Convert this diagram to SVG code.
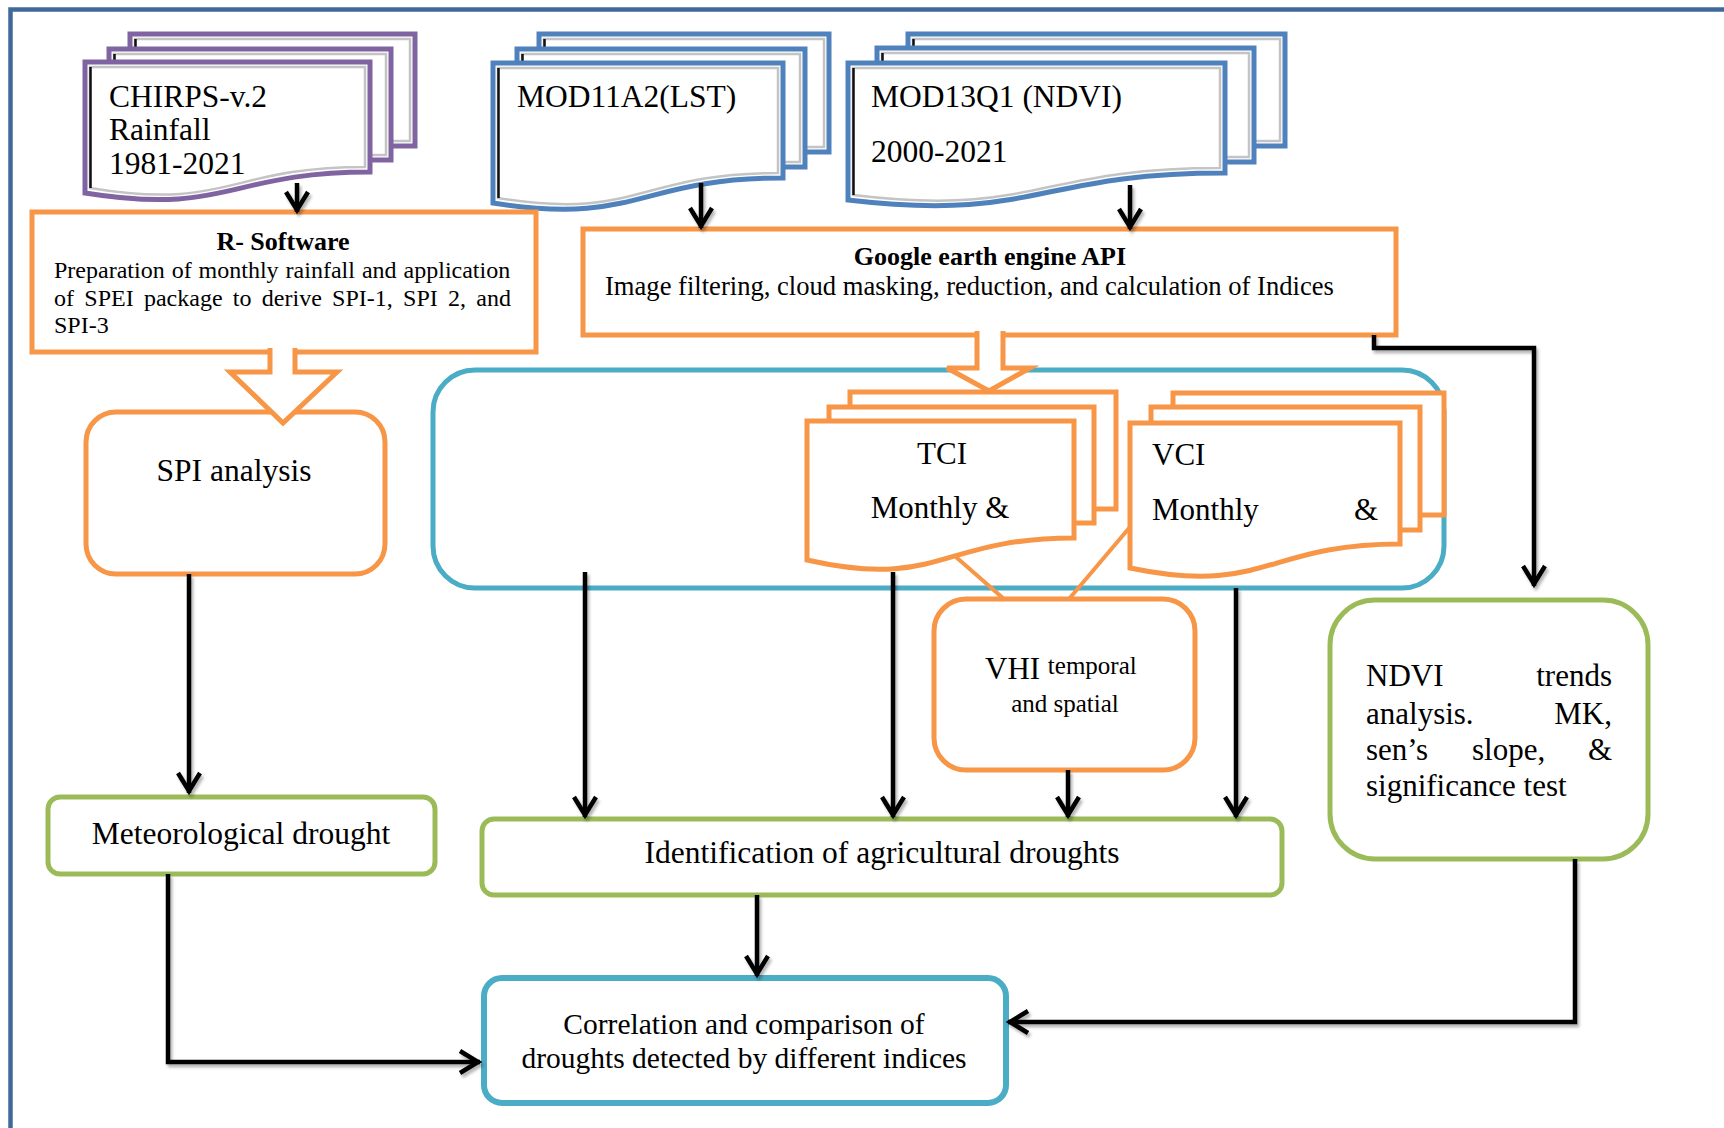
<svg xmlns="http://www.w3.org/2000/svg" width="1724" height="1128" viewBox="0 0 1724 1128">
  <defs>
    <style>
      .t { font-family: "Liberation Serif", "Times New Roman", serif; fill: #000; }
      .b { font-weight: bold; }
      .box { fill: #fff; }
      .or { stroke: #F79646; stroke-width: 5; }
      .gr { stroke: #9BBB59; stroke-width: 5; }
      .bl { stroke: #4BACC6; stroke-width: 5; }
      .pu { stroke: #8064A2; stroke-width: 5; fill: #fff; }
      .mb { stroke: #4F81BD; stroke-width: 5; fill: #fff; }
      .bevel { fill: none; stroke: #c4c4c4; stroke-width: 2.5; }
      .shade { fill: none; stroke: #111; stroke-width: 2.5; }
      .wire { fill: none; stroke: #000; stroke-width: 4.5; filter: url(#sh); }
      .arr { marker-end: url(#ah); }
      .block { fill: #fff; stroke: #F79646; stroke-width: 5; stroke-linejoin: miter; }
      .link { fill: none; stroke: #F79646; stroke-width: 4; }
    </style>
    <marker id="ah" markerUnits="userSpaceOnUse" viewBox="-26 -16 30 32" markerWidth="30" markerHeight="32" refX="0" refY="0" orient="auto">
      <path d="M-20,-11 L-2,0 L-20,11" fill="none" stroke="#000" stroke-width="4.5" stroke-linejoin="miter"/>
    </marker>
    <!-- soft shadow under the black connectors; user-space region so straight lines keep a non-empty filter area -->
    <filter id="sh" filterUnits="userSpaceOnUse" x="0" y="0" width="1724" height="1128">
      <feDropShadow dx="2" dy="3" stdDeviation="1.5" flood-color="#000" flood-opacity="0.3"/>
    </filter>
  </defs>

  <rect width="1724" height="1128" fill="#fff"/>
  <!-- outer frame -->
  <path d="M10.5,1130 V9.5 H1726" fill="none" stroke="#41689A" stroke-width="4.5"/>

  <!-- CHIRPS rainfall input (stacked documents) -->
  <g id="chirps">
    <rect class="pu" x="130" y="34" width="285" height="112"/>
    <rect class="bevel" x="135" y="39" width="275" height="102"/>
    <path class="shade" d="M135.5,39 V141"/>
    <rect class="pu" x="109" y="49" width="282" height="111"/>
    <rect class="bevel" x="114" y="54" width="272" height="101"/>
    <path class="shade" d="M114.5,54 V155"/>
    <path class="pu" d="M85,62 H370 V172 C228,172 228,216 85,193 Z"/>
    <path class="bevel" d="M90,67 H365 V167 C228,167 228,211 90,188 Z"/>
    <path class="shade" d="M90.5,67 V188"/>
    <text class="t" font-size="31.5" x="109" y="107">CHIRPS-v.2</text>
    <text class="t" font-size="31.5" x="109" y="140">Rainfall</text>
    <text class="t" font-size="31.5" x="109" y="174">1981-2021</text>
  </g>

  <!-- MOD11A2 LST input -->
  <g id="mod11a2">
    <rect class="mb" x="539" y="34" width="290" height="118"/>
    <rect class="bevel" x="544" y="39" width="280" height="108"/>
    <path class="shade" d="M544.5,39 V147"/>
    <rect class="mb" x="517" y="49" width="288" height="118"/>
    <rect class="bevel" x="522" y="54" width="278" height="108"/>
    <path class="shade" d="M522.5,54 V162"/>
    <path class="mb" d="M493,63 H783 V178 C638,178 638,226 493,203 Z"/>
    <path class="bevel" d="M498,68 H778 V173 C638,173 638,221 498,198 Z"/>
    <path class="shade" d="M498.5,68 V198"/>
    <text class="t" font-size="31.5" x="517" y="107">MOD11A2(LST)</text>
  </g>

  <!-- MOD13Q1 NDVI input -->
  <g id="mod13q1">
    <rect class="mb" x="908" y="34" width="377" height="112"/>
    <rect class="bevel" x="913" y="39" width="367" height="102"/>
    <path class="shade" d="M913.5,39 V141"/>
    <rect class="mb" x="877" y="48" width="377" height="114"/>
    <rect class="bevel" x="882" y="53" width="367" height="104"/>
    <path class="shade" d="M882.5,53 V157"/>
    <path class="mb" d="M848,63 H1225 V173 C1036,173 1036,222 848,200 Z"/>
    <path class="bevel" d="M853,68 H1220 V168 C1036,168 1036,217 853,195 Z"/>
    <path class="shade" d="M853.5,68 V195"/>
    <text class="t" font-size="31.5" x="871" y="107">MOD13Q1 (NDVI)</text>
    <text class="t" font-size="31.5" x="871" y="162">2000-2021</text>
  </g>

  <!-- R processing -->
  <g id="r-software">
    <rect class="box or" x="32" y="212" width="504" height="140"/>
    <text class="t b" font-size="26" x="283" y="250" text-anchor="middle">R- Software</text>
    <text class="t" font-size="24" x="54" y="278" word-spacing="1">Preparation of monthly rainfall and application</text>
    <text class="t" font-size="24" x="54" y="306" word-spacing="4.3">of SPEI package to derive SPI-1, SPI 2, and</text>
    <text class="t" font-size="24" x="54" y="333">SPI-3</text>
  </g>

  <!-- Earth Engine processing -->
  <g id="gee">
    <rect class="box or" x="583" y="229" width="813" height="106"/>
    <text class="t b" font-size="26" x="990" y="265" text-anchor="middle">Google earth engine API</text>
    <text class="t" font-size="26.6" x="605" y="295">Image filtering, cloud masking, reduction, and calculation of Indices</text>
  </g>

  <g id="spi">
    <rect class="box or" x="86" y="412" width="299" height="162" rx="30"/>
    <text class="t" font-size="31.5" x="234" y="481" text-anchor="middle">SPI analysis</text>
  </g>

  <!-- panel holding the satellite indices -->
  <g id="indices-panel">
    <rect class="box bl" x="433" y="370" width="1011" height="218" rx="42"/>
  </g>

  <g id="tci">
    <rect class="box or" x="850" y="392" width="266" height="117"/>
    <rect class="box or" x="829" y="407" width="265" height="116"/>
    <path class="box or" d="M807,421 H1074 V538 C940,538 940,590 807,560 Z"/>
    <text class="t" font-size="31" x="942" y="464" text-anchor="middle">TCI</text>
    <text class="t" font-size="31" x="940" y="518" text-anchor="middle">Monthly &amp;</text>
  </g>

  <g id="vci">
    <rect class="box or" x="1173" y="393" width="271" height="122"/>
    <rect class="box or" x="1151" y="407" width="269" height="123"/>
    <path class="box or" d="M1130,423 H1400 V544 C1265,544 1265,596 1130,568 Z"/>
    <text class="t" font-size="31" x="1152" y="465">VCI</text>
    <text class="t" font-size="31" x="1152" y="520">Monthly</text>
    <text class="t" font-size="31" x="1354" y="520">&amp;</text>
  </g>

  <g id="vhi">
    <rect class="box or" x="934" y="599" width="261" height="171" rx="32"/>
    <text class="t" font-size="31" x="985" y="679">VHI <tspan font-size="25" dy="-5">temporal</tspan></text>
    <text class="t" font-size="25" x="1065" y="712" text-anchor="middle">and spatial</text>
  </g>

  <g id="ndvi-trends">
    <rect class="box gr" x="1330" y="600" width="318" height="259" rx="45"/>
    <text class="t" font-size="31" y="686"><tspan x="1366">NDVI</tspan><tspan x="1612" text-anchor="end">trends</tspan></text>
    <text class="t" font-size="31" y="724"><tspan x="1366">analysis.</tspan><tspan x="1612" text-anchor="end">MK,</tspan></text>
    <text class="t" font-size="31" y="760"><tspan x="1366">sen’s</tspan><tspan x="1472">slope,</tspan><tspan x="1612" text-anchor="end">&amp;</tspan></text>
    <text class="t" font-size="31" x="1366" y="796">significance test</text>
  </g>

  <g id="met-drought">
    <rect class="box gr" x="48" y="797" width="387" height="77" rx="12"/>
    <text class="t" font-size="31.5" x="241" y="844" text-anchor="middle">Meteorological drought</text>
  </g>

  <g id="agri-drought">
    <rect class="box gr" x="482" y="819" width="800" height="76" rx="12"/>
    <text class="t" font-size="31.5" x="882" y="863" text-anchor="middle">Identification of agricultural droughts</text>
  </g>

  <g id="correlation">
    <rect class="box" x="484" y="978" width="522" height="125" rx="18" stroke="#4BACC6" stroke-width="6"/>
    <text class="t" font-size="29.5" x="744" y="1034" text-anchor="middle">Correlation and comparison of</text>
    <text class="t" font-size="29.5" x="744" y="1068" text-anchor="middle">droughts detected by different indices</text>
  </g>

  <!-- connectors -->
  <g id="connectors">
    <!-- hollow block arrows -->
    <path class="block" d="M270,348 V372 H230 L283,423 L337,372 H295 V348"/>
    <path class="block" d="M977,331 V368 H947 L989,391 L1030,368 H1003 V331"/>
    <!-- index documents feeding VHI -->
    <path class="link" d="M956,557 L1004,599"/>
    <path class="link" d="M1130,527 L1069,599"/>
    <!-- black arrows -->
    <path class="wire arr" d="M297,183 V212"/>
    <path class="wire arr" d="M701,183 V228"/>
    <path class="wire arr" d="M1130,185 V229"/>
    <path class="wire arr" d="M1374,335 V348 H1534 V586"/>
    <path class="wire arr" d="M189,574 V793"/>
    <path class="wire arr" d="M585,572 V817"/>
    <path class="wire arr" d="M893,572 V817"/>
    <path class="wire arr" d="M1068,770 V817"/>
    <path class="wire arr" d="M1236,588 V817"/>
    <path class="wire arr" d="M757,895 V976"/>
    <path class="wire arr" d="M168,874 V1062 H480"/>
    <path class="wire arr" d="M1575,859 V1022 H1008"/>
  </g>
</svg>
